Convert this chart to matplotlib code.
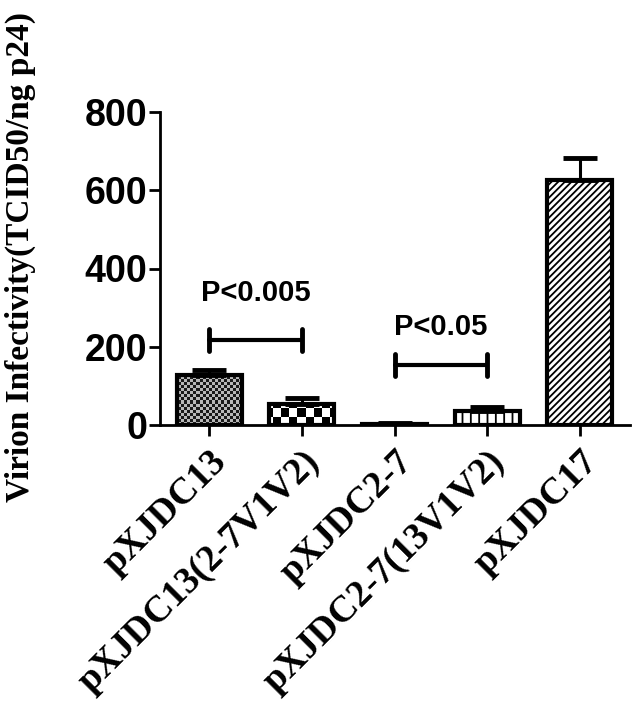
import numpy as np
import matplotlib
matplotlib.use("Agg")
import matplotlib.pyplot as plt
import matplotlib.transforms as mtransforms

# data
labels = ["pXJDC13", "pXJDC13(2-7V1V2)", "pXJDC2-7", "pXJDC2-7(13V1V2)", "pXJDC17"]
means = [128, 54, 3, 37, 626]
errs = [12, 16, 1, 9, 56]
yticks = [0, 200, 400, 600, 800]

# significance brackets: (left bar, right bar, bracket y, text y, text)
brackets = [(0, 1, 217, 337, "P<0.005"), (2, 3, 153, 250, "P<0.05")]

plt.rcParams["hatch.linewidth"] = 1.3

fig = plt.figure(figsize=(6.39, 7.22), dpi=100)
ax = fig.add_axes([160 / 639, 1 - 425 / 722, 470 / 639, 313 / 722])

x = np.arange(len(labels))
bars = ax.bar(x, means, width=0.70, facecolor="none", edgecolor="black",
              linewidth=3.0, zorder=3)
ax.errorbar(x, means, yerr=[np.zeros(len(errs)), errs], fmt="none",
            ecolor="black", elinewidth=2.2, capsize=12, capthick=3.5, zorder=2)

# textures
bars[3].set_hatch("||")
bars[4].set_hatch("/////")


def checker(cell_px, c1, c2):
    # checkerboard over the whole axes, clipped to a bar later
    nx, ny = int(470 / cell_px), int(313 / cell_px)
    ii, jj = np.indices((ny, nx))
    mask = (ii + jj) % 2 == 0
    img = np.empty((ny, nx, 3))
    img[mask] = matplotlib.colors.to_rgb(c1)
    img[~mask] = matplotlib.colors.to_rgb(c2)
    return img


for k, (cell, c1, c2) in {0: (3, "#1a1a1a", "#b8b8b8"),
                          1: (8, "#000000", "#ffffff")}.items():
    im = ax.imshow(checker(cell, c1, c2), extent=[0, 1, 0, 1],
                   transform=ax.transAxes, aspect="auto",
                   interpolation="nearest", zorder=1)
    im.set_clip_path(bars[k])

ax.set_xlim(-0.53, 4.54)
ax.set_ylim(0, 800)
ax.set_yticks(yticks)
ax.set_xticks(x)
ax.set_xticklabels(labels, rotation=45, ha="right", va="top",
                   rotation_mode="anchor", fontfamily="Liberation Serif",
                   fontweight="bold", fontsize=27)
shift = mtransforms.ScaledTranslation(-6 / 100, -6 / 100, fig.dpi_scale_trans)
for t in ax.get_xticklabels():
    t.set_transform(t.get_transform() + shift)
for t in ax.get_yticklabels():
    t.set_fontfamily("Liberation Sans")
    t.set_fontweight("bold")
    t.set_fontsize(27)

for s in ["top", "right"]:
    ax.spines[s].set_visible(False)
for s in ["left", "bottom"]:
    ax.spines[s].set_linewidth(2.0)
ax.tick_params(axis="both", direction="out", length=8, width=2.0)
ax.tick_params(axis="y", pad=1)
ax.tick_params(axis="x", pad=6)

for i0, i1, yb, yt, txt in brackets:
    ax.plot([x[i0], x[i1]], [yb, yb], color="black", lw=3,
            solid_capstyle="round", zorder=4)
    for xi in (x[i0], x[i1]):
        ax.plot([xi, xi], [yb - 28, yb + 28], color="black", lw=3.5,
                solid_capstyle="round", zorder=4)
    ax.text((x[i0] + x[i1]) / 2, yt, txt, ha="center", va="center",
            fontfamily="Liberation Sans", fontweight="bold", fontsize=21)

fig.text(20 / 639, 1 - 257 / 722, "Virion Infectivity(TCID50/ng p24)",
         rotation=90, ha="center", va="center", fontfamily="Liberation Serif",
         fontweight="bold", fontsize=24)

fig.savefig("out.png", dpi=100)
